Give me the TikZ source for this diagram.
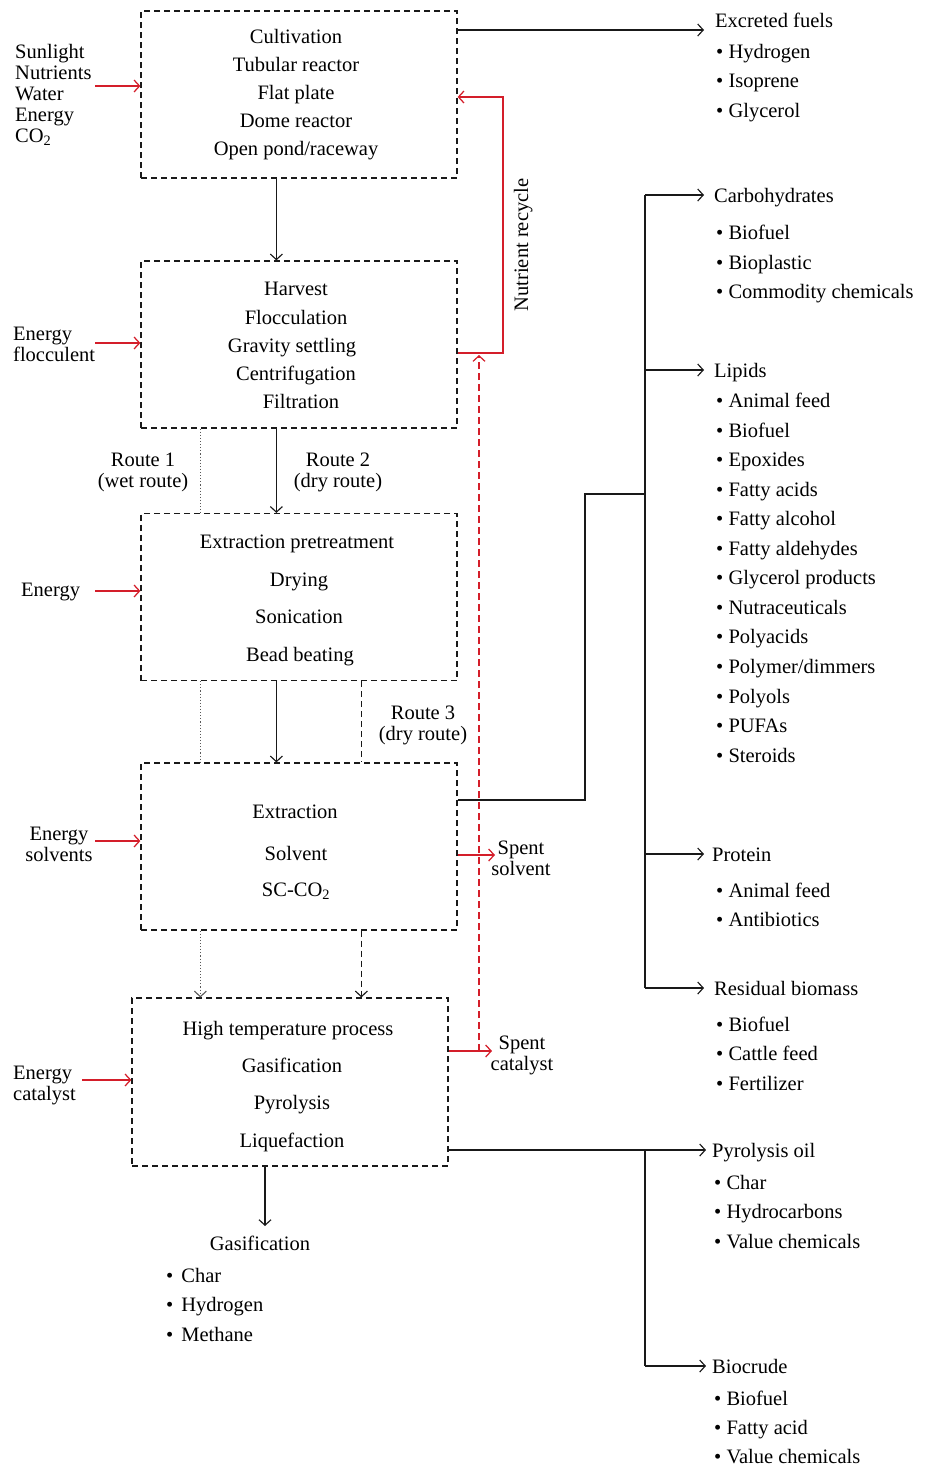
\documentclass[tikz,border=0pt]{standalone}
\usepackage{fontspec}
\setmainfont{Liberation Serif}
\usetikzlibrary{arrows.meta,calc}
\definecolor{rd}{RGB}{212,30,42}
\definecolor{ln}{RGB}{25,25,25}
\begin{document}
\begin{tikzpicture}[x=1pt,y=-1pt,
  every node/.style={font=\fontsize{20.5}{21}\selectfont, inner sep=0pt, text=black},
  stage/.style={draw=ln, line width=1.25pt, dash pattern=on 6pt off 4pt, minimum width=316pt, minimum height=167pt},
  t/.style={text height=17pt, text depth=3pt},
  hd/.style={t, anchor=west},
  ml/.style={align=center},
  ll/.style={align=left},
  tip/.style={-{Straight Barb[length=5.5pt,width=12pt]}},
  ln/.style={draw=ln, line width=1.15pt},
  arr/.style={ln, tip},
  dot/.style={draw=black!65, line width=1.1pt, dotted},
  dsh/.style={ln, dash pattern=on 6pt off 4pt},
  rarr/.style={draw=rd, line width=1.25pt, tip},
  rdsh/.style={draw=rd, line width=1.2pt, dash pattern=on 7pt off 4pt, tip}
]
\useasboundingbox (0,0) rectangle (924,1467);

% ---- stage boxes
\node[stage] (cult) at (299,94.5) {};
\node[stage] (harv) at (299,344.5) {};
\node[stage] (pre) at (299,597) {};
\node[stage] (extr) at (299,846.5) {};
\node[stage, minimum height=168pt] (ht) at (290,1082) {};

% ---- texts in boxes
\node[t] (c1) at (296,36) {Cultivation};
\node[t] (c2) at (296,64) {Tubular reactor};
\node[t] (c3) at (296,92) {Flat plate};
\node[t] (c4) at (296,120) {Dome reactor};
\node[t] (c5) at (296,148) {Open pond/raceway};

\node[t] (h1) at (296,288) {Harvest};
\node[t] (h2) at (296,317) {Flocculation};
\node[t] (h3) at (292,345) {Gravity settling};
\node[t] (h4) at (296,373) {Centrifugation};
\node[t] (h5) at (301,401) {Filtration};

\node[t] (p1) at (297,541) {Extraction pretreatment};
\node[t] (p2) at (299,579) {Drying};
\node[t] (p3) at (299,616) {Sonication};
\node[t] (p4) at (300,654) {Bead beating};

\node[t] (e1) at (295,811) {Extraction};
\node[t] (e2) at (296,853) {Solvent};
\node[t] (e3) at (296,889) {SC-CO\textsubscript{2}};

\node[t] (g1) at (288,1028) {High temperature process};
\node[t] (g2) at (292,1065) {Gasification};
\node[t] (g3) at (292,1102) {Pyrolysis};
\node[t] (g4) at (292,1140) {Liquefaction};

% ---- left inputs
\node[ll, anchor=west] (in1) at (15,95) {Sunlight\\Nutrients\\Water\\Energy\\CO\textsubscript{2}};
\node[ll, anchor=west] (in2) at (13,344) {Energy\\flocculent};
\node[t, anchor=west] (in3) at (21,589) {Energy};
\node[ml] (in4) at (59,844) {Energy\\solvents};
\node[ll, anchor=west] (in5) at (13,1085) {Energy\\catalyst};

\coordinate (iA) at (95,86);
\coordinate (iB) at (95,343);
\coordinate (iC) at (95,591);
\coordinate (iD) at (95,841);
\coordinate (iE) at (82,1080);
\draw[rarr] (iA) -- (iA -| cult.west);
\draw[rarr] (iB) -- (iB -| harv.west);
\draw[rarr] (iC) -- (iC -| pre.west);
\draw[rarr] (iD) -- (iD -| extr.west);
\draw[rarr] (iE) -- (iE -| ht.west);

% ---- main flow
\draw[arr] ([xshift=136pt]cult.south west) -- ([xshift=136pt]harv.north west);
\draw[dot] ([xshift=60pt]harv.south west) -- ([xshift=60pt]pre.north west);
\draw[arr] ([xshift=136pt]harv.south west) -- ([xshift=136pt]pre.north west);
\draw[dot] ([xshift=60pt]pre.south west) -- ([xshift=60pt]extr.north west);
\draw[arr] ([xshift=136pt]pre.south west) -- ([xshift=136pt]extr.north west);
\draw[dsh] ([xshift=221pt]pre.south west) -- ([xshift=221pt]extr.north west);
\draw[dot, tip] ([xshift=60pt]extr.south west) -- ([xshift=69pt]ht.north west);
\draw[dsh, tip] ([xshift=221pt]extr.south west) -- ([xshift=230pt]ht.north west);

\node[ml] (r1) at (143,472) {Route 1\\(wet route)};
\node[ml] (r2) at (338,472) {Route 2\\(dry route)};
\node[ml] (r3) at (423,725) {Route 3\\(dry route)};

% ---- nutrient recycle and spent streams
\coordinate (nr) at (503,97);
\draw[rarr] ([yshift=-8.5pt]harv.east) -| (nr) -- (nr -| cult.east);
\node[t, rotate=90] (nrl) at (521,245) {Nutrient recycle};

\coordinate (ssA) at (495,855);
\draw[rarr] (ssA -| extr.east) -- (ssA);
\node[ml] (ss) at (521,858) {Spent\\solvent};

\coordinate (scA) at (492,1051);
\draw[rarr] (scA -| ht.east) -- (scA);
\node[ml] (sc) at (522,1055) {Spent\\catalyst};

\coordinate (rdT) at (479,355);
\draw[rdsh] (rdT |- scA) -- (rdT);

% ---- excreted fuels
\coordinate (exA) at (704,30);
\draw[arr] (exA -| cult.east) -- (exA);
\node[hd] (ex) at (715,20) {Excreted fuels};
\node[hd] (ex1) at (716,51) {\textbullet\ Hydrogen};
\node[hd] (ex2) at (716,80) {\textbullet\ Isoprene};
\node[hd] (ex3) at (716,110) {\textbullet\ Glycerol};

% ---- extraction products tree
\node[hd] (carb) at (714,195) {Carbohydrates};
\node[hd] (cb1) at (716,232) {\textbullet\ Biofuel};
\node[hd] (cb2) at (716,262) {\textbullet\ Bioplastic};
\node[hd] (cb3) at (716,291) {\textbullet\ Commodity chemicals};

\node[hd] (lip) at (714,370) {Lipids};
\node[hd] (l1) at (716,400) {\textbullet\ Animal feed};
\node[hd] (l2) at (716,430) {\textbullet\ Biofuel};
\node[hd] (l3) at (716,459) {\textbullet\ Epoxides};
\node[hd] (l4) at (716,489) {\textbullet\ Fatty acids};
\node[hd] (l5) at (716,518) {\textbullet\ Fatty alcohol};
\node[hd] (l6) at (716,548) {\textbullet\ Fatty aldehydes};
\node[hd] (l7) at (716,577) {\textbullet\ Glycerol products};
\node[hd] (l8) at (716,607) {\textbullet\ Nutraceuticals};
\node[hd] (l9) at (716,636) {\textbullet\ Polyacids};
\node[hd] (l10) at (716,666) {\textbullet\ Polymer/dimmers};
\node[hd] (l11) at (716,696) {\textbullet\ Polyols};
\node[hd] (l12) at (716,725) {\textbullet\ PUFAs};
\node[hd] (l13) at (716,755) {\textbullet\ Steroids};

\node[hd] (prot) at (712,854) {Protein};
\node[hd] (pr1) at (716,890) {\textbullet\ Animal feed};
\node[hd] (pr2) at (716,919) {\textbullet\ Antibiotics};

\node[hd] (res) at (714,988) {Residual biomass};
\node[hd] (rs1) at (716,1024) {\textbullet\ Biofuel};
\node[hd] (rs2) at (716,1053) {\textbullet\ Cattle feed};
\node[hd] (rs3) at (716,1083) {\textbullet\ Fertilizer};

\coordinate (j1) at (585,494);
\coordinate (tr) at (645,494);
\draw[ln] ([yshift=46.5pt]extr.east) -| (j1) -- (tr);
\draw[ln] (carb.west -| tr) -- (res.west -| tr);
\draw[arr] (carb.west -| tr) -- ([xshift=-10pt]carb.west);
\draw[arr] (lip.west -| tr) -- ([xshift=-10pt]lip.west);
\draw[arr] (prot.west -| tr) -- ([xshift=-8pt]prot.west);
\draw[arr] (res.west -| tr) -- ([xshift=-10pt]res.west);

% ---- high temperature products
\coordinate (gasA) at (265,1226);
\draw[arr] (gasA |- ht.south) -- (gasA);
\node[t] (gas) at (260,1243) {Gasification};
\node[hd] (gs1) at (166,1275) {\textbullet\hspace{8pt}Char};
\node[hd] (gs2) at (166,1304) {\textbullet\hspace{8pt}Hydrogen};
\node[hd] (gs3) at (166,1334) {\textbullet\hspace{8pt}Methane};

\node[hd] (pyo) at (712,1150) {Pyrolysis oil};
\node[hd] (py1) at (714,1182) {\textbullet\ Char};
\node[hd] (py2) at (714,1211) {\textbullet\ Hydrocarbons};
\node[hd] (py3) at (714,1241) {\textbullet\ Value chemicals};

\node[hd] (bioc) at (712,1366) {Biocrude};
\node[hd] (bc1) at (714,1398) {\textbullet\ Biofuel};
\node[hd] (bc2) at (714,1427) {\textbullet\ Fatty acid};
\node[hd] (bc3) at (714,1456) {\textbullet\ Value chemicals};

\draw[arr] ([yshift=-68pt]ht.east) -- ([xshift=-6pt]pyo.west);
\draw[ln] (pyo.west -| tr) -- (bioc.west -| tr);
\draw[arr] (bioc.west -| tr) -- ([xshift=-6pt]bioc.west);
\end{tikzpicture}
\end{document}
